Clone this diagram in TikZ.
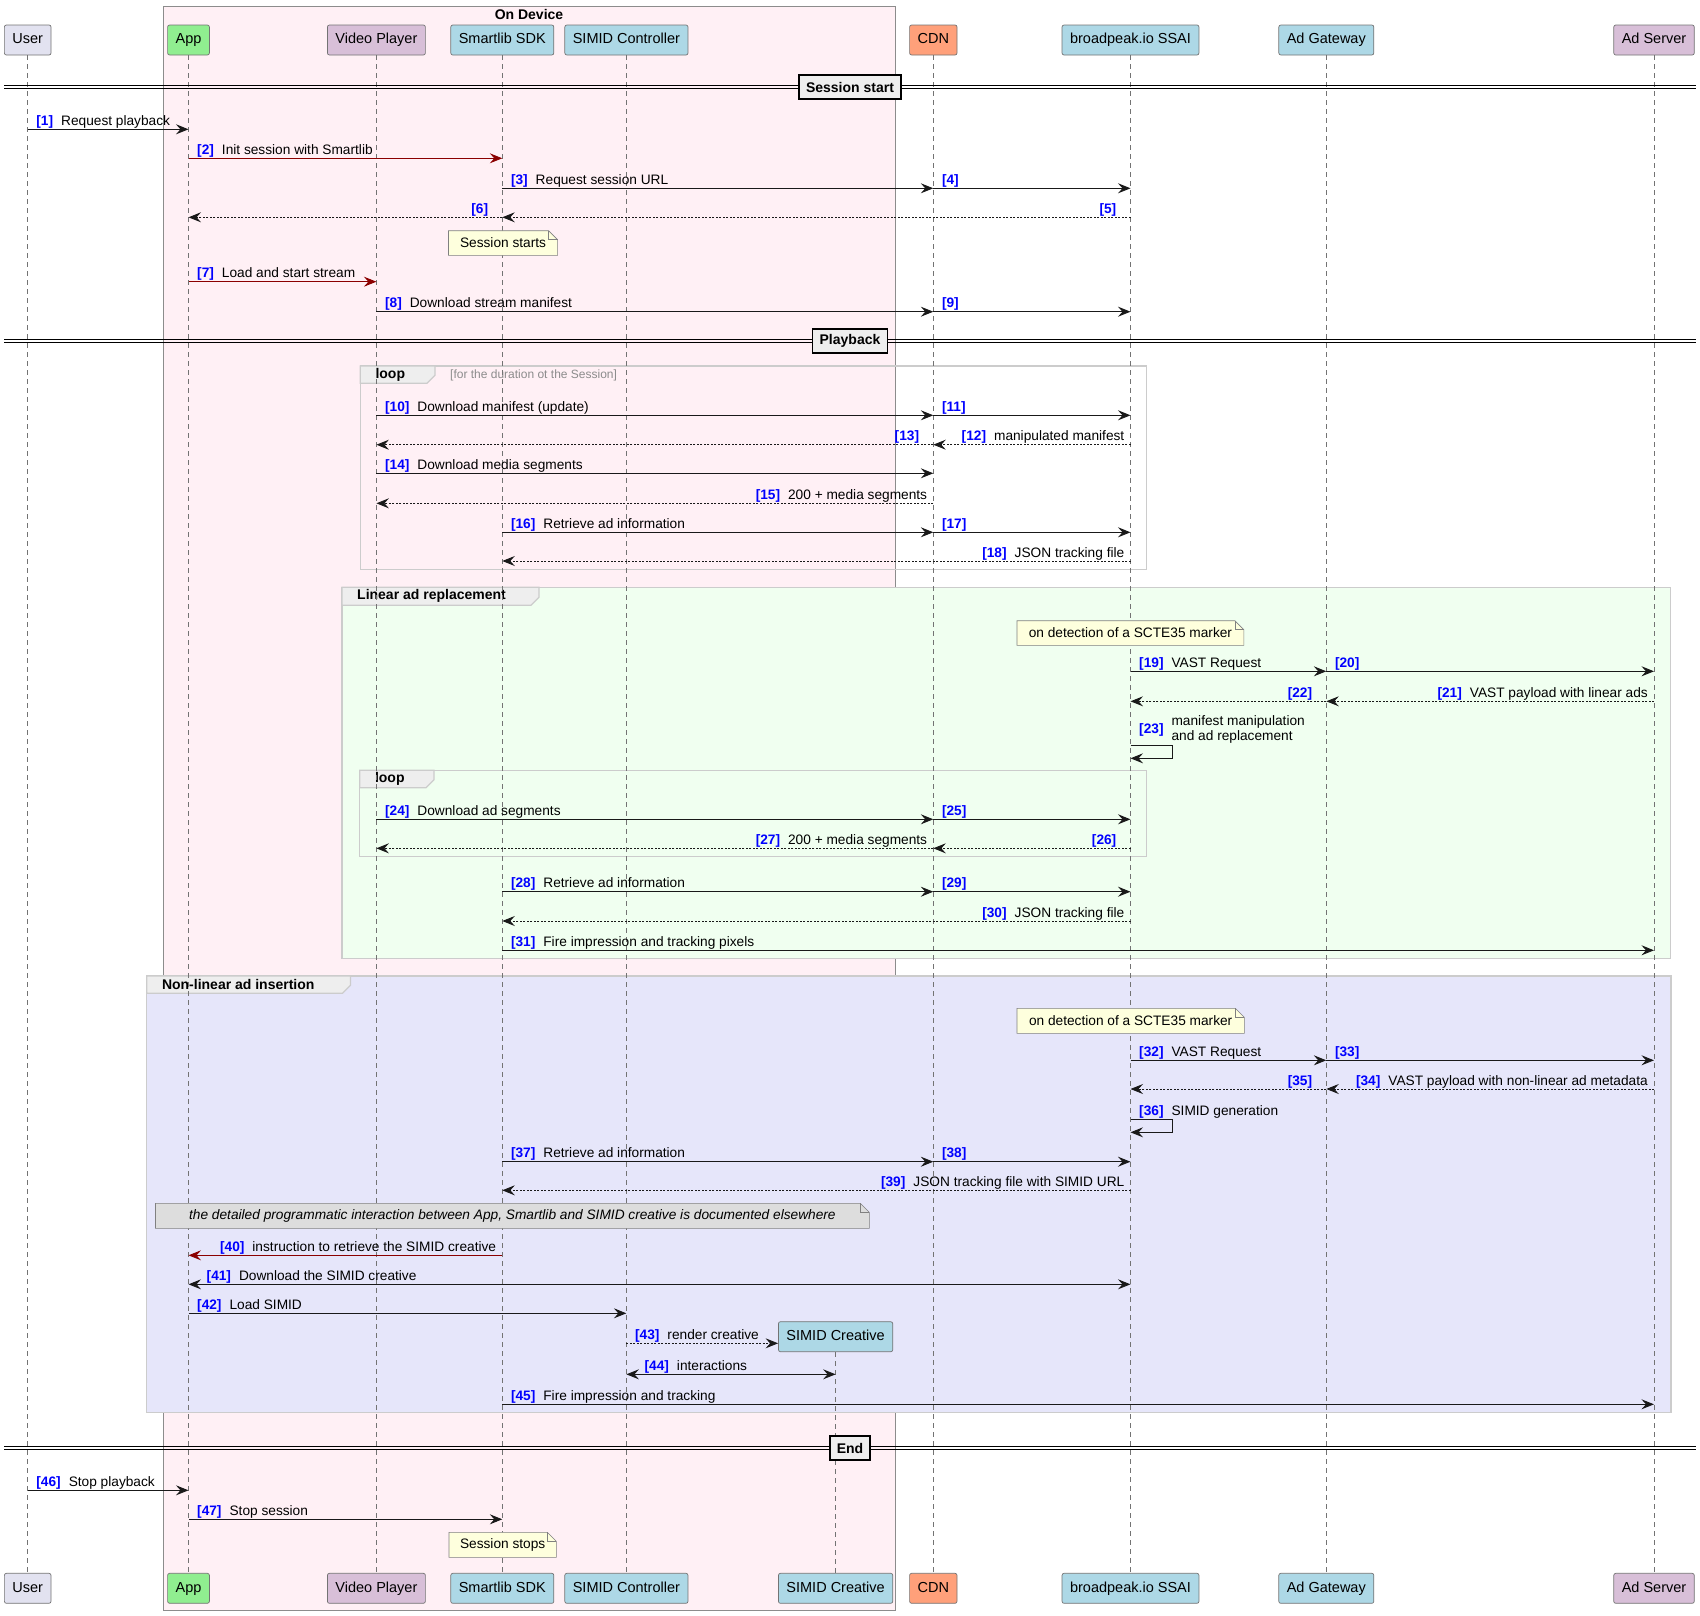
\documentclass[tikz,border=0pt]{standalone}
\usepackage{fontspec}
\setmainfont{Liberation Sans}
\usepackage{tikz}
\usetikzlibrary{arrows.meta}
\tikzset{>={Stealth[length=12.5pt,width=10pt,inset=4.5pt]}}

\definecolor{numblue}{HTML}{0000FF}
\definecolor{darkred}{HTML}{8B0000}
\definecolor{userfill}{HTML}{E2E2F0}
\definecolor{appfill}{HTML}{90EE90}
\definecolor{thistle}{HTML}{D8BFD8}
\definecolor{lightblue}{HTML}{ADD8E6}
\definecolor{salmon}{HTML}{FFA07A}
\definecolor{devicefill}{HTML}{FFF0F5}
\definecolor{linearfill}{HTML}{F0FFF0}
\definecolor{nonlinfill}{HTML}{E6E6FA}
\definecolor{notefill}{HTML}{FEFFDD}
\definecolor{graynote}{HTML}{DDDDDD}
\definecolor{tabgray}{HTML}{EEEEEE}

\newcommand{\msgfont}{\fontsize{13.7}{15}\selectfont}
\newcommand{\partfont}{\fontsize{14.5}{17}\selectfont}
\newcommand{\seqnum}[1]{{\bfseries\color{numblue}[#1]}\hspace{8pt}}

% message to the right: [style]{id}{from}{to}{y}{label}
\newcommand{\msgR}[6][]{%
  \coordinate (#2s) at (#3 |- 0,#5);
  \coordinate (#2e) at (#4 |- 0,#5);
  \draw[msg,#1] (#2s) -- (#2e);
  \node[lbl, anchor=base west] (#2l) at ([xshift=8.5pt,yshift=4pt]#2s) {#6};
}
% message to the left
\newcommand{\msgL}[6][]{%
  \coordinate (#2s) at (#3 |- 0,#5);
  \coordinate (#2e) at (#4 |- 0,#5);
  \draw[msg,#1] (#2s) -- (#2e);
  \node[lbl, anchor=base east] (#2l) at ([xshift=-6pt,yshift=4pt]#2s) {#6};
}
% message with two heads
\newcommand{\msgB}[5]{%
  \coordinate (#1s) at (#2 |- 0,#4);
  \coordinate (#1e) at (#3 |- 0,#4);
  \draw[msg,<->] (#1s) -- (#1e);
  \node[lbl, anchor=base west] (#1l) at ([xshift=18pt,yshift=4pt]#1s) {#5};
}
% message to self: [lift]{id}{who}{y1}{y2}{label}
\newcommand{\msgS}[6][4pt]{%
  \coordinate (#2s) at (#3 |- 0,#4);
  \coordinate (#2e) at (#3 |- 0,#5);
  \draw[msg] (#2s) -- ++(42,0) |- (#2e);
  \node[lbl, anchor=base west] (#2l) at ([xshift=8.5pt,yshift=#1]#2s) {#6};
}
% note with folded corner
\newcommand{\seqnote}[7]{%
  \draw[notebox, fill=#6] (#2,#3) -- (#4-9,#3) -- (#4,#3+9) -- (#4,#5) -- (#2,#5) -- cycle;
  \draw[notebox] (#4-9,#3) -- (#4-9,#3+9) -- (#4,#3+9);
  \node[lbl] (#1) at ({(#2+#4)/2},{(#3+#5)/2}) {#7};
}
% group frame
\newcommand{\grp}[9]{%
  \draw[frameline, fill=#8] (#2,#3) rectangle (#4,#5);
  \draw[frameline, fill=tabgray] (#2,#3) -- (#6,#3) -- (#6,#7-8) -- (#6-8,#7) -- (#2,#7) -- cycle;
  \node[grplbl, anchor=west] (#1) at (#2+15,{(#3+#7)/2}) {#9};
}
% divider
\newcommand{\divider}[3]{%
  \draw[line width=0.9pt] (4,#2-1.7) -- (1696,#2-1.7);
  \draw[line width=0.9pt] (4,#2+1.7) -- (1696,#2+1.7);
  \node[divlbl] (#1) at (850,#2) {#3};
}

\begin{document}
\begin{tikzpicture}[x=1pt, y=-1pt,
  part/.style={draw=black!55, line width=0.7pt, rounded corners=2pt, minimum height=30pt, inner xsep=8pt, inner ysep=0pt, text height=10.5pt, text depth=3pt, font=\partfont},
  lifeline/.style={draw=black!55, line width=0.6pt, dash pattern=on 5pt off 4pt},
  msg/.style={draw=black!90, line width=0.9pt, ->},
  ret/.style={dash pattern=on 2pt off 1.5pt},
  call/.style={draw=darkred},
  lbl/.style={inner sep=0pt, font=\msgfont},
  notebox/.style={draw=black!50, line width=0.6pt},
  frameline/.style={draw=black!20, line width=1.2pt},
  grplbl/.style={inner sep=0pt, font=\fontsize{14}{16}\selectfont\bfseries},
  divlbl/.style={draw=black, line width=1.5pt, fill=tabgray, font=\fontsize{14}{16}\selectfont\bfseries, inner xsep=7pt, inner ysep=0pt, minimum height=24pt}]

    \useasboundingbox (0,0) rectangle (1700,1615);

    %Box
    \draw[draw=black!45, line width=0.8pt, fill=devicefill] (163.7,6.3) rectangle (895.6,1610);
    \node[grplbl] (device) at (529,14.7) {On Device};

    %Groups
    \grp{linear}{342}{587.3}{1670.5}{958.3}{539}{605.3}{linearfill}{Linear ad replacement}
    \grp{nonlin}{146.8}{976}{1670.9}{1412.7}{350.4}{993.3}{nonlinfill}{Non-linear ad insertion}
    \grp{loopa}{360.3}{366}{1146.7}{569.3}{435}{383.3}{none}{loop}
    \grp{loopb}{359.8}{770.3}{1146.4}{856.7}{434}{787.7}{none}{loop}
    \node[inner sep=0pt, anchor=west, text=black!45, font=\fontsize{12}{14}\selectfont] (loopcond) at (450,375) {[for the duration ot the Session]};

    %Participants
    \node[part, fill=userfill] (user) at (27.7,40) {User};
    \node[part, fill=appfill] (app) at (188.5,40) {App};
    \node[part, fill=thistle] (vp) at (376.4,40) {Video Player};
    \node[part, fill=lightblue] (sdk) at (502.3,40) {Smartlib SDK};
    \node[part, fill=lightblue] (simctrl) at (626.4,40) {SIMID Controller};
    \node[part, fill=salmon] (cdn) at (933.3,40) {CDN};
    \node[part, fill=lightblue] (ssai) at (1130.5,40) {broadpeak.io SSAI};
    \node[part, fill=lightblue] (adgw) at (1326.3,40) {Ad Gateway};
    \node[part, fill=thistle] (adsrv) at (1654,40) {Ad Server};
    \node[part, fill=lightblue] (simcre) at (835.6,1336.7) {SIMID Creative};

    \node[part, fill=userfill] (user-b) at (27.7,1588.3) {User};
    \node[part, fill=appfill] (app-b) at (188.5,1588.3) {App};
    \node[part, fill=thistle] (vp-b) at (376.4,1588.3) {Video Player};
    \node[part, fill=lightblue] (sdk-b) at (502.3,1588.3) {Smartlib SDK};
    \node[part, fill=lightblue] (simctrl-b) at (626.4,1588.3) {SIMID Controller};
    \node[part, fill=lightblue] (simcre-b) at (835.6,1588.3) {SIMID Creative};
    \node[part, fill=salmon] (cdn-b) at (933.3,1588.3) {CDN};
    \node[part, fill=lightblue] (ssai-b) at (1130.5,1588.3) {broadpeak.io SSAI};
    \node[part, fill=lightblue] (adgw-b) at (1326.3,1588.3) {Ad Gateway};
    \node[part, fill=thistle] (adsrv-b) at (1654,1588.3) {Ad Server};

    %Lifelines
    \foreach \p in {user,app,vp,sdk,simctrl,simcre,cdn,ssai,adgw,adsrv}
        \draw[lifeline] (\p.south) -- (\p-b.north);

    %Dividers
    \divider{start}{87}{Session start}
    \divider{playback}{341}{Playback}
    \divider{end}{1448}{End}

    %Notes
    \seqnote{starts}{448.5}{230.7}{557.6}{255.3}{notefill}{Session starts}
    \seqnote{scte}{1017}{620.7}{1243.8}{645.3}{notefill}{on detection of a SCTE35 marker}
    \seqnote{sctenl}{1017}{1008.3}{1244.3}{1033.3}{notefill}{on detection of a SCTE35 marker}
    \seqnote{detail}{155.5}{1203.3}{869.3}{1228.3}{graynote}{\itshape the detailed programmatic interaction between App, Smartlib and SIMID creative is documented elsewhere}
    \seqnote{stops}{449}{1532.3}{556.3}{1557.3}{notefill}{Session stops}

    %Session start
    \msgR{m1}{user}{app}{129.3}{\seqnum{1}Request playback}
    \msgR[call]{m2}{app}{sdk}{158.3}{\seqnum{2}Init session with Smartlib}
    \msgR{m3}{sdk}{cdn}{188.3}{\seqnum{3}Request session URL}
    \msgR{m4}{cdn}{ssai}{188.3}{\seqnum{4}}
    \msgL[ret]{m5}{ssai}{sdk}{217.3}{\seqnum{5}\hspace{4pt}}
    \msgL[ret]{m6}{sdk}{app}{217.3}{\seqnum{6}\hspace{4pt}}
    \msgR[call]{m7}{app}{vp}{281.7}{\seqnum{7}Load and start stream}
    \msgR{m8}{vp}{cdn}{311.7}{\seqnum{8}Download stream manifest}
    \msgR{m9}{cdn}{ssai}{311.7}{\seqnum{9}}

    %Playback loop
    \msgR{m10}{vp}{cdn}{415.3}{\seqnum{10}Download manifest (update)}
    \msgR{m11}{cdn}{ssai}{415.3}{\seqnum{11}}
    \msgL[ret]{m12}{ssai}{cdn}{444.7}{\seqnum{12}manipulated manifest}
    \msgL[ret]{m13}{cdn}{vp}{444.7}{\seqnum{13}\hspace{4pt}}
    \msgR{m14}{vp}{cdn}{473.3}{\seqnum{14}Download media segments}
    \msgL[ret]{m15}{cdn}{vp}{503.3}{\seqnum{15}200 + media segments}
    \msgR{m16}{sdk}{cdn}{532.3}{\seqnum{16}Retrieve ad information}
    \msgR{m17}{cdn}{ssai}{532.3}{\seqnum{17}}
    \msgL[ret]{m18}{ssai}{sdk}{561}{\seqnum{18}JSON tracking file}

    %Linear ad replacement
    \msgR{m19}{ssai}{adgw}{671.3}{\seqnum{19}VAST Request}
    \msgR{m20}{adgw}{adsrv}{671.3}{\seqnum{20}}
    \msgL[ret]{m21}{adsrv}{adgw}{701.3}{\seqnum{21}VAST payload with linear ads}
    \msgL[ret]{m22}{adgw}{ssai}{701.3}{\seqnum{22}\hspace{4pt}}
    \msgS[12pt]{m23}{ssai}{745.3}{758.3}{\seqnum{23}\begin{tabular}[c]{@{}l@{}}manifest manipulation\\and ad replacement\end{tabular}}
    \msgR{m24}{vp}{cdn}{819.3}{\seqnum{24}Download ad segments}
    \msgR{m25}{cdn}{ssai}{819.3}{\seqnum{25}}
    \msgL[ret]{m26}{ssai}{cdn}{848.3}{\seqnum{26}\hspace{4pt}}
    \msgL[ret]{m27}{cdn}{vp}{848.3}{\seqnum{27}200 + media segments}
    \msgR{m28}{sdk}{cdn}{891.7}{\seqnum{28}Retrieve ad information}
    \msgR{m29}{cdn}{ssai}{891.7}{\seqnum{29}}
    \msgL[ret]{m30}{ssai}{sdk}{921}{\seqnum{30}JSON tracking file}
    \msgR{m31}{sdk}{adsrv}{950.3}{\seqnum{31}Fire impression and tracking pixels}

    %Non-linear ad insertion
    \msgR{m32}{ssai}{adgw}{1060.3}{\seqnum{32}VAST Request}
    \msgR{m33}{adgw}{adsrv}{1060.3}{\seqnum{33}}
    \msgL[ret]{m34}{adsrv}{adgw}{1089}{\seqnum{34}VAST payload with non-linear ad metadata}
    \msgL[ret]{m35}{adgw}{ssai}{1089}{\seqnum{35}\hspace{4pt}}
    \msgS{m36}{ssai}{1119.7}{1132.3}{\seqnum{36}SIMID generation}
    \msgR{m37}{sdk}{cdn}{1161.7}{\seqnum{37}Retrieve ad information}
    \msgR{m38}{cdn}{ssai}{1161.7}{\seqnum{38}}
    \msgL[ret]{m39}{ssai}{sdk}{1190.3}{\seqnum{39}JSON tracking file with SIMID URL}
    \msgL[call]{m40}{sdk}{app}{1255.3}{\seqnum{40}instruction to retrieve the SIMID creative}
    \msgB{m41}{app}{ssai}{1284.3}{\seqnum{41}Download the SIMID creative}
    \msgR{m42}{app}{simctrl}{1313.3}{\seqnum{42}Load SIMID}
    \msgR[ret]{m43}{simctrl}{simcre.west}{1343.3}{\seqnum{43}render creative}
    \msgB{m44}{simctrl}{simcre}{1374.3}{\seqnum{44}interactions}
    \msgR{m45}{sdk}{adsrv}{1404.3}{\seqnum{45}Fire impression and tracking}

    %End
    \msgR{m46}{user}{app}{1490.3}{\seqnum{46}Stop playback}
    \msgR{m47}{app}{sdk}{1519.3}{\seqnum{47}Stop session}

\end{tikzpicture}
\end{document}
